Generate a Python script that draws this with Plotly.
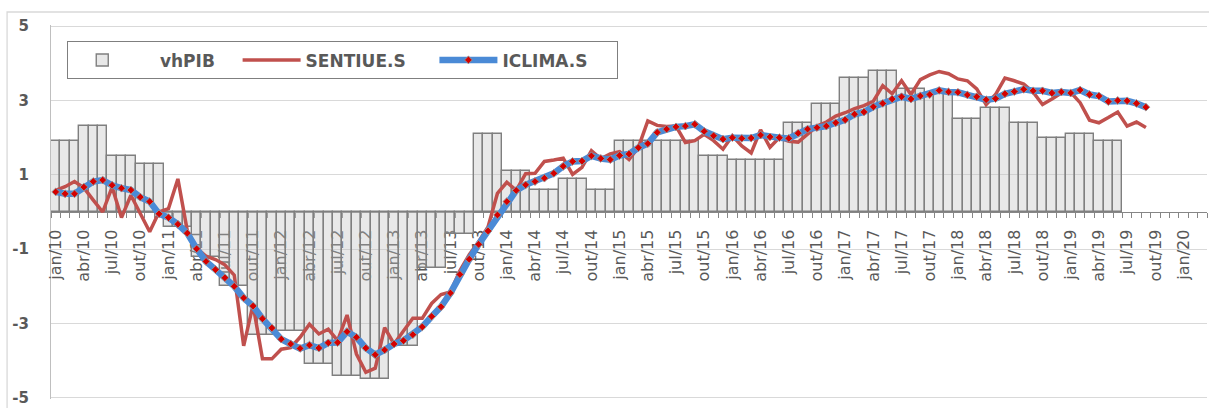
import plotly.graph_objects as go

# ---------------- data ----------------
MONTHS = ["jan", "fev", "mar", "abr", "mai", "jun", "jul", "ago", "set", "out", "nov", "dez"]
YEARS = list(range(10, 21))
N_CATS = 123  # jan/10 .. mar/20
categories = [f"{MONTHS[m]}/{y:02d}" for y in YEARS for m in range(12)][:N_CATS]

# quarterly GDP y/y (2010Q1 .. 2019Q2), shown on each month of the quarter
vhPIB_q = [1.9, 2.3, 1.5, 1.3,
           -0.4, -1.2, -2.0, -3.3,
           -3.2, -4.1, -4.4, -4.5,
           -3.6, -1.5, -0.6, 2.1,
           1.1, 0.6, 0.9, 0.6,
           1.9, 1.9, 1.9, 1.5,
           1.4, 1.4, 2.4, 2.9,
           3.6, 3.8, 3.3, 3.2,
           2.5, 2.8, 2.4, 2.0,
           2.1, 1.9]

SENTIUE_S = [0.58, 0.68, 0.82, 0.65, 0.32, 0.0, 0.67, -0.15, 0.45, -0.05, -0.53, 0.0,
             0.09, 0.89, -0.5, -0.97, -1.19, -1.28, -1.42, -1.7, -3.6, -2.5, -3.95, -3.95,
             -3.69, -3.65, -3.37, -3.02, -3.28, -3.15, -3.46, -2.77, -3.82, -4.31, -4.2, -3.11,
             -3.55, -3.2, -2.86, -2.86, -2.46, -2.22, -2.15, -1.58, -1.15, -0.8, -0.4, 0.5,
             0.8, 0.58, 1.03, 1.04, 1.36, 1.40, 1.45, 1.01, 1.20, 1.65, 1.43, 1.56,
             1.62, 1.41, 1.74, 2.45, 2.33, 2.30, 2.31, 1.87, 1.92, 2.09, 1.92, 1.69,
             2.05, 1.78, 1.59, 2.21, 1.74, 2.00, 1.90, 1.88, 2.09, 2.31, 2.42, 2.58,
             2.67, 2.78, 2.86, 2.98, 3.40, 3.18, 3.53, 3.16, 3.56, 3.69, 3.78, 3.72,
             3.58, 3.53, 3.31, 2.89, 3.16, 3.60, 3.53, 3.44, 3.22, 2.89, 3.04, 3.20,
             3.22, 2.94, 2.47, 2.40, 2.54, 2.69, 2.31, 2.42, 2.27]

ICLIMA_S = [0.54, 0.49, 0.49, 0.67, 0.82, 0.86, 0.72, 0.64, 0.59, 0.40, 0.28, -0.05,
            -0.15, -0.33, -0.57, -0.99, -1.33, -1.55, -1.77, -2.0, -2.31, -2.53, -2.87, -3.12,
            -3.42, -3.55, -3.67, -3.58, -3.66, -3.52, -3.51, -3.22, -3.37, -3.66, -3.84, -3.71,
            -3.55, -3.46, -3.30, -3.09, -2.81, -2.55, -2.18, -1.68, -1.27, -0.87, -0.51, -0.08,
            0.28, 0.58, 0.73, 0.82, 0.91, 1.04, 1.23, 1.36, 1.37, 1.51, 1.44, 1.41,
            1.52, 1.56, 1.73, 1.84, 2.14, 2.23, 2.29, 2.31, 2.36, 2.17, 2.05, 1.96,
            2.00, 1.98, 1.99, 2.07, 2.02, 2.00, 1.98, 2.12, 2.23, 2.27, 2.31, 2.40,
            2.48, 2.63, 2.69, 2.83, 2.92, 3.04, 3.10, 3.04, 3.12, 3.16, 3.27, 3.23,
            3.22, 3.15, 3.10, 3.02, 3.05, 3.18, 3.24, 3.30, 3.26, 3.26, 3.20, 3.23,
            3.20, 3.28, 3.16, 3.12, 2.97, 3.00, 2.99, 2.92, 2.82]

Y_TICKS = [-5, -3, -1, 1, 3, 5]
Y_TICK_TEXT = ["-5", "-3", "-1", "1", "3", "5"]

# ---------------- derived ----------------
x_idx = list(range(len(categories)))
vhPIB_m = [v for v in vhPIB_q for _ in range(3)]
label_vals = x_idx[::3]
label_text = categories[::3]

GRAY_TXT = "#595959"
FONT = "DejaVu Sans"
NB = "\u00a0"

fig = go.Figure()
fig.add_trace(go.Bar(
    x=x_idx[:len(vhPIB_m)], y=vhPIB_m, name=NB * 4 + "vhPIB" + NB * 3, width=1,
    marker=dict(color="rgba(195,195,195,0.38)", line=dict(color="#7f7f7f", width=1.4)),
))
fig.add_trace(go.Scatter(
    x=x_idx[:len(SENTIUE_S)], y=SENTIUE_S, name="SENTIUE.S" + NB * 4, mode="lines",
    line=dict(color="#c0504d", width=3.5),
))
fig.add_trace(go.Scatter(
    x=x_idx[:len(ICLIMA_S)], y=ICLIMA_S, name="ICLIMA.S" + NB * 4, mode="lines+markers",
    line=dict(color="#4a8ad6", width=6.5),
    marker=dict(symbol="diamond", size=6, color="#d40000",
                line=dict(color="rgba(150,150,150,0.9)", width=1)),
))

fig.update_layout(
    width=1209, height=408,
    margin=dict(l=51, r=2, t=25, b=9, autoexpand=False),
    paper_bgcolor="white", plot_bgcolor="white",
    bargap=0,
    font=dict(family=FONT, color=GRAY_TXT),
    showlegend=True,
    legend=dict(
        orientation="h", x=0.0138, y=0.957, xanchor="left", yanchor="top",
        bordercolor="#7f7f7f", borderwidth=1.3, bgcolor="white",
        font=dict(family=FONT, size=17, color=GRAY_TXT, weight="bold"),
        itemwidth=58,
    ),
    xaxis=dict(
        range=[-0.5, N_CATS - 0.5],
        anchor="free", position=0.5, automargin=False,
        tickmode="array", tickvals=label_vals, ticktext=label_text,
        tickangle=-90, ticks="",
        tickfont=dict(family=FONT, size=16, color=GRAY_TXT),
        ticklabelstandoff=10,
        showline=True, linecolor="#868686", linewidth=1.3,
        showgrid=False, zeroline=False,
        minor=dict(tickmode="linear", tick0=-0.5, dtick=1, ticks="outside",
                   ticklen=5, tickcolor="#868686", tickwidth=1.2, showgrid=False),
        layer="below traces",
    ),
    yaxis=dict(
        range=[-5.03, 5.03], automargin=False,
        tickmode="array", tickvals=Y_TICKS, ticktext=Y_TICK_TEXT,
        showgrid=True, gridcolor="#d9d9d9", gridwidth=1.3,
        zeroline=False, ticklabeloverflow="allow",
        showline=True, linecolor="#bfbfbf", linewidth=1.3,
        tickfont=dict(family=FONT, size=15, color=GRAY_TXT, weight="bold"),
        ticklabelstandoff=18,
        layer="below traces",
    ),
    shapes=[dict(type="rect", xref="paper", yref="paper",
                 x0=-0.038, x1=1.05, y0=-0.1, y1=1.0347,
                 line=dict(color="#d9d9d9", width=1.3), fillcolor="rgba(0,0,0,0)",
                 layer="below")],
)

fig.write_html("out.html", config={"displayModeBar": False},
               post_script="document.body.style.margin='0px';document.body.style.overflow='hidden';")
